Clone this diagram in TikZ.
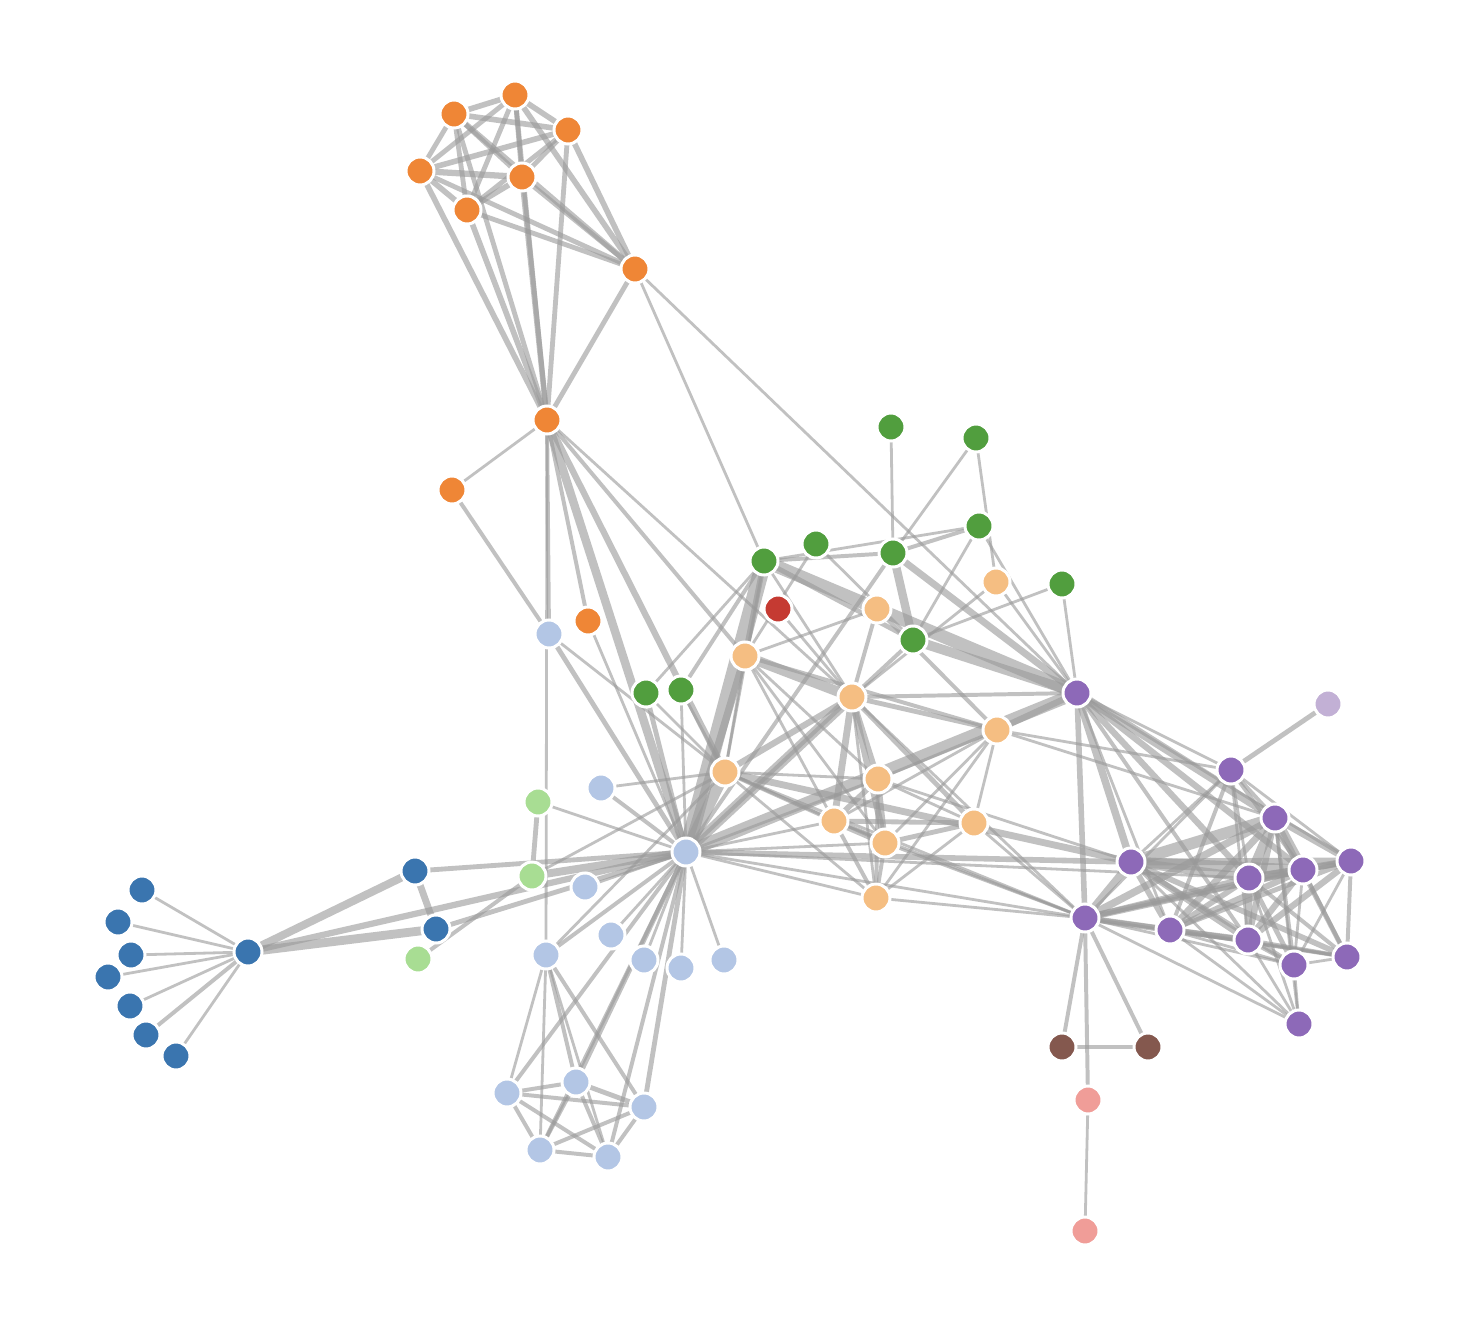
\documentclass[tikz,border=0pt]{standalone}
\usepackage{tikz}
\pgfdeclarelayer{bg}
\pgfdeclarelayer{edges}
\pgfsetlayers{bg,edges,main}
\definecolor{cA}{HTML}{3A75AF}
\definecolor{cB}{HTML}{B3C6E5}
\definecolor{cC}{HTML}{EF8636}
\definecolor{cD}{HTML}{F5BE82}
\definecolor{cE}{HTML}{519E3E}
\definecolor{cF}{HTML}{A8DD93}
\definecolor{cG}{HTML}{C53A32}
\definecolor{cH}{HTML}{F09D98}
\definecolor{cI}{HTML}{8D69B8}
\definecolor{cJ}{HTML}{C2B0D5}
\definecolor{cK}{HTML}{84584E}
\definecolor{linkgray}{HTML}{999999}
\tikzset{
  nd/.style={circle, minimum size=28pt, inner sep=0pt, draw=white, line width=3pt},
  lk/.style={draw=linkgray, draw opacity=0.6}
}
\begin{document}
\begin{tikzpicture}[x=1pt,y=-1pt]
\useasboundingbox (0,0) rectangle (1484,1340);
\begin{pgfonlayer}{bg}
\fill[white] (0,0) rectangle (1484,1340);
\end{pgfonlayer}
% group 1
\node[nd,fill=cA] (Myriel) at (248,952) {};
\node[nd,fill=cA] (Napoleon) at (142,890) {};
\node[nd,fill=cA] (Baptistine) at (415,871) {};
\node[nd,fill=cA] (Magloire) at (436,929) {};
\node[nd,fill=cA] (Countess) at (118,922) {};
\node[nd,fill=cA] (Geborand) at (131,955) {};
\node[nd,fill=cA] (Champtercier) at (108,977) {};
\node[nd,fill=cA] (Cravatte) at (130,1006) {};
\node[nd,fill=cA] (Count) at (146,1035) {};
\node[nd,fill=cA] (OldMan) at (176,1056) {};
% group 2
\node[nd,fill=cB] (Valjean) at (686,852) {};
\node[nd,fill=cB] (Labarre) at (724,960) {};
\node[nd,fill=cB] (MmeDeR) at (585,887) {};
\node[nd,fill=cB] (Isabeau) at (611,935) {};
\node[nd,fill=cB] (Gervais) at (644,960) {};
\node[nd,fill=cB] (Simplice) at (549,634) {};
\node[nd,fill=cB] (Scaufflaire) at (681,968) {};
\node[nd,fill=cB] (Woman1) at (601,788) {};
\node[nd,fill=cB] (Bamatabois) at (546,955) {};
\node[nd,fill=cB] (Judge) at (576,1082) {};
\node[nd,fill=cB] (Champmathieu) at (644,1107) {};
\node[nd,fill=cB] (Brevet) at (507,1093) {};
\node[nd,fill=cB] (Chenildieu) at (540,1150) {};
\node[nd,fill=cB] (Cochepaille) at (608,1157) {};
% group 3
\node[nd,fill=cC] (Tholomyes) at (635,269) {};
\node[nd,fill=cC] (Fantine) at (547,420) {};
\node[nd,fill=cC] (Perpetue) at (452,490) {};
\node[nd,fill=cC] (Marguerite) at (588,621) {};
\node[nd,fill=cC] (Listolier) at (515,95) {};
\node[nd,fill=cC] (Fameuil) at (454,114) {};
\node[nd,fill=cC] (Blacheville) at (568,130) {};
\node[nd,fill=cC] (Favourite) at (420,171) {};
\node[nd,fill=cC] (Dahlia) at (522,177) {};
\node[nd,fill=cC] (Zephine) at (467,210) {};
% group 4
\node[nd,fill=cD] (MmeTh) at (745,656) {};
\node[nd,fill=cD] (Thenardier) at (852,697) {};
\node[nd,fill=cD] (Javert) at (725,772) {};
\node[nd,fill=cD] (Pontmercy) at (996,582) {};
\node[nd,fill=cD] (Eponine) at (997,730) {};
\node[nd,fill=cD] (Anzelma) at (877,609) {};
\node[nd,fill=cD] (Gueulemer) at (885,843) {};
\node[nd,fill=cD] (Babet) at (834,821) {};
\node[nd,fill=cD] (Claquesous) at (878,779) {};
\node[nd,fill=cD] (Montparnasse) at (876,898) {};
\node[nd,fill=cD] (Brujon) at (974,823) {};
% group 5
\node[nd,fill=cE] (Cosette) at (764,561) {};
\node[nd,fill=cE] (Woman2) at (646,693) {};
\node[nd,fill=cE] (Gillenormand) at (913,640) {};
\node[nd,fill=cE] (Magnon) at (816,544) {};
\node[nd,fill=cE] (MlleGil) at (893,553) {};
\node[nd,fill=cE] (MmePont) at (976,438) {};
\node[nd,fill=cE] (MlleVaubois) at (891,427) {};
\node[nd,fill=cE] (LtGil) at (979,526) {};
\node[nd,fill=cE] (BaronessT) at (1062,584) {};
\node[nd,fill=cE] (Toussaint) at (681,690) {};
% group 0
\node[nd,fill=cF] (Fauchelevent) at (532,876) {};
\node[nd,fill=cF] (MotherInnocent) at (538,802) {};
\node[nd,fill=cF] (Gribier) at (418,959) {};
% group 6, 7
\node[nd,fill=cG] (Boulatruelle) at (778,609) {};
\node[nd,fill=cH] (MmeBurgon) at (1088,1100) {};
\node[nd,fill=cH] (Jondrette) at (1085,1231) {};
% group 8
\node[nd,fill=cI] (Marius) at (1077,693) {};
\node[nd,fill=cI] (Mabeuf) at (1231,770) {};
\node[nd,fill=cI] (Gavroche) at (1085,918) {};
\node[nd,fill=cI] (Enjolras) at (1131,862) {};
\node[nd,fill=cI] (Courfeyrac) at (1275,818) {};
\node[nd,fill=cI] (Bossuet) at (1249,878) {};
\node[nd,fill=cI] (Combeferre) at (1303,870) {};
\node[nd,fill=cI] (Bahorel) at (1170,930) {};
\node[nd,fill=cI] (Joly) at (1248,940) {};
\node[nd,fill=cI] (Feuilly) at (1351,861) {};
\node[nd,fill=cI] (Prouvaire) at (1347,957) {};
\node[nd,fill=cI] (Grantaire) at (1294,965) {};
\node[nd,fill=cI] (Hucheloup) at (1299,1024) {};
% group 9, 10
\node[nd,fill=cJ] (MotherPlutarch) at (1328,704) {};
\node[nd,fill=cK] (Child1) at (1062,1047) {};
\node[nd,fill=cK] (Child2) at (1148,1047) {};
\begin{pgfonlayer}{edges}
\foreach \a/\b/\v in {Napoleon/Myriel/1, Baptistine/Myriel/8, Magloire/Myriel/10, Magloire/Baptistine/6, Countess/Myriel/1, Geborand/Myriel/1, Champtercier/Myriel/1, Cravatte/Myriel/1, Count/Myriel/2, OldMan/Myriel/1, Valjean/Labarre/1, Valjean/Magloire/3, Valjean/Baptistine/3, Valjean/Myriel/5, Marguerite/Valjean/1, MmeDeR/Valjean/1, Isabeau/Valjean/1, Gervais/Valjean/1, Listolier/Tholomyes/4, Fameuil/Tholomyes/4, Fameuil/Listolier/4, Blacheville/Tholomyes/4, Blacheville/Listolier/4, Blacheville/Fameuil/4, Favourite/Tholomyes/3, Favourite/Listolier/3, Favourite/Fameuil/3, Favourite/Blacheville/4, Dahlia/Tholomyes/3, Dahlia/Listolier/3, Dahlia/Fameuil/3, Dahlia/Blacheville/3, Dahlia/Favourite/5, Zephine/Tholomyes/3, Zephine/Listolier/3, Zephine/Fameuil/3, Zephine/Blacheville/3, Zephine/Favourite/4, Zephine/Dahlia/4, Fantine/Tholomyes/3, Fantine/Listolier/3, Fantine/Fameuil/3, Fantine/Blacheville/3, Fantine/Favourite/4, Fantine/Dahlia/4, Fantine/Zephine/4, Fantine/Marguerite/2, Fantine/Valjean/9, MmeTh/Fantine/2, MmeTh/Valjean/7, Thenardier/MmeTh/13, Thenardier/Fantine/1, Thenardier/Valjean/12, Cosette/MmeTh/4, Cosette/Valjean/31, Cosette/Tholomyes/1, Cosette/Thenardier/1, Javert/Valjean/17, Javert/Fantine/5, Javert/Thenardier/5, Javert/MmeTh/1, Javert/Cosette/1, Fauchelevent/Valjean/8, Fauchelevent/Javert/1, Bamatabois/Fantine/1, Bamatabois/Javert/1, Bamatabois/Valjean/2, Perpetue/Fantine/1, Simplice/Perpetue/2, Simplice/Valjean/3, Simplice/Fantine/2, Simplice/Javert/1, Scaufflaire/Valjean/1, Woman1/Valjean/2, Woman1/Javert/1, Judge/Valjean/3, Judge/Bamatabois/2, Champmathieu/Valjean/3, Champmathieu/Judge/3, Champmathieu/Bamatabois/2, Brevet/Judge/2, Brevet/Champmathieu/2, Brevet/Valjean/2, Brevet/Bamatabois/1, Chenildieu/Judge/2, Chenildieu/Champmathieu/2, Chenildieu/Brevet/2, Chenildieu/Valjean/2, Chenildieu/Bamatabois/1, Cochepaille/Judge/2, Cochepaille/Champmathieu/2, Cochepaille/Brevet/2, Cochepaille/Chenildieu/2, Cochepaille/Valjean/2, Cochepaille/Bamatabois/1, Pontmercy/Thenardier/1, Boulatruelle/Thenardier/1, Eponine/MmeTh/2, Eponine/Thenardier/3, Anzelma/Eponine/2, Anzelma/Thenardier/2, Anzelma/MmeTh/1, Woman2/Valjean/3, Woman2/Cosette/1, Woman2/Javert/1, MotherInnocent/Fauchelevent/3, MotherInnocent/Valjean/1, Gribier/Fauchelevent/2, MmeBurgon/Jondrette/1, Gavroche/MmeBurgon/2, Gavroche/Thenardier/1, Gavroche/Javert/1, Gavroche/Valjean/1, Gillenormand/Cosette/3, Gillenormand/Valjean/2, Magnon/Gillenormand/1, Magnon/MmeTh/1, MlleGil/Gillenormand/9, MlleGil/Cosette/2, MlleGil/Valjean/2, MmePont/MlleGil/1, MmePont/Pontmercy/1, MlleVaubois/MlleGil/1, LtGil/MlleGil/2, LtGil/Gillenormand/1, LtGil/Cosette/1, Marius/MlleGil/6, Marius/Gillenormand/12, Marius/Pontmercy/1, Marius/LtGil/1, Marius/Cosette/21, Marius/Valjean/19, Marius/Tholomyes/1, Marius/Thenardier/2, Marius/Eponine/5, Marius/Gavroche/4, BaronessT/Gillenormand/1, BaronessT/Marius/1, Mabeuf/Marius/1, Mabeuf/Eponine/1, Mabeuf/Gavroche/1, Enjolras/Marius/7, Enjolras/Gavroche/7, Enjolras/Javert/6, Enjolras/Mabeuf/1, Enjolras/Valjean/4, Combeferre/Enjolras/15, Combeferre/Marius/5, Combeferre/Gavroche/6, Combeferre/Mabeuf/2, Prouvaire/Gavroche/1, Prouvaire/Enjolras/4, Prouvaire/Combeferre/2, Feuilly/Gavroche/2, Feuilly/Enjolras/6, Feuilly/Prouvaire/2, Feuilly/Combeferre/5, Feuilly/Mabeuf/1, Feuilly/Marius/1, Courfeyrac/Marius/9, Courfeyrac/Enjolras/17, Courfeyrac/Combeferre/13, Courfeyrac/Gavroche/7, Courfeyrac/Mabeuf/2, Courfeyrac/Eponine/1, Courfeyrac/Feuilly/6, Courfeyrac/Prouvaire/3, Bahorel/Combeferre/5, Bahorel/Gavroche/5, Bahorel/Courfeyrac/6, Bahorel/Mabeuf/2, Bahorel/Enjolras/4, Bahorel/Feuilly/3, Bahorel/Prouvaire/2, Bahorel/Marius/1, Bossuet/Marius/5, Bossuet/Courfeyrac/12, Bossuet/Gavroche/5, Bossuet/Bahorel/4, Bossuet/Feuilly/6, Bossuet/Prouvaire/2, Bossuet/Enjolras/10, Bossuet/Combeferre/9, Bossuet/Mabeuf/1, Bossuet/Valjean/1, Joly/Bahorel/5, Joly/Bossuet/7, Joly/Gavroche/3, Joly/Courfeyrac/5, Joly/Enjolras/5, Joly/Feuilly/5, Joly/Prouvaire/2, Joly/Combeferre/5, Joly/Mabeuf/1, Joly/Marius/2, Grantaire/Bossuet/3, Grantaire/Enjolras/3, Grantaire/Combeferre/1, Grantaire/Courfeyrac/2, Grantaire/Joly/2, Grantaire/Gavroche/1, Grantaire/Bahorel/1, Grantaire/Feuilly/1, Grantaire/Prouvaire/1, MotherPlutarch/Mabeuf/3, Gueulemer/Thenardier/5, Gueulemer/Valjean/1, Gueulemer/MmeTh/1, Gueulemer/Javert/1, Gueulemer/Gavroche/1, Gueulemer/Eponine/1, Babet/Thenardier/6, Babet/Gueulemer/6, Babet/Valjean/1, Babet/MmeTh/1, Babet/Javert/2, Babet/Gavroche/1, Babet/Eponine/1, Claquesous/Thenardier/4, Claquesous/Babet/4, Claquesous/Gueulemer/4, Claquesous/Valjean/1, Claquesous/MmeTh/1, Claquesous/Javert/1, Claquesous/Eponine/1, Claquesous/Enjolras/1, Montparnasse/Javert/1, Montparnasse/Babet/2, Montparnasse/Gueulemer/2, Montparnasse/Claquesous/2, Montparnasse/Valjean/1, Montparnasse/Gavroche/1, Montparnasse/Eponine/1, Montparnasse/Thenardier/1, Toussaint/Cosette/2, Toussaint/Javert/1, Toussaint/Valjean/1, Child1/Gavroche/2, Child2/Gavroche/2, Child2/Child1/3, Brujon/Babet/3, Brujon/Gueulemer/3, Brujon/Thenardier/3, Brujon/Gavroche/1, Brujon/Eponine/1, Brujon/Claquesous/1, Brujon/Montparnasse/1, Hucheloup/Bossuet/1, Hucheloup/Joly/1, Hucheloup/Grantaire/1, Hucheloup/Bahorel/1, Hucheloup/Courfeyrac/1, Hucheloup/Gavroche/1, Hucheloup/Enjolras/1}{
  \pgfmathsetmacro\w{sqrt(\v)*2.8}
  \draw[lk, line width=\w pt] (\a.center) -- (\b.center);
}
\end{pgfonlayer}
\end{tikzpicture}
\end{document}
